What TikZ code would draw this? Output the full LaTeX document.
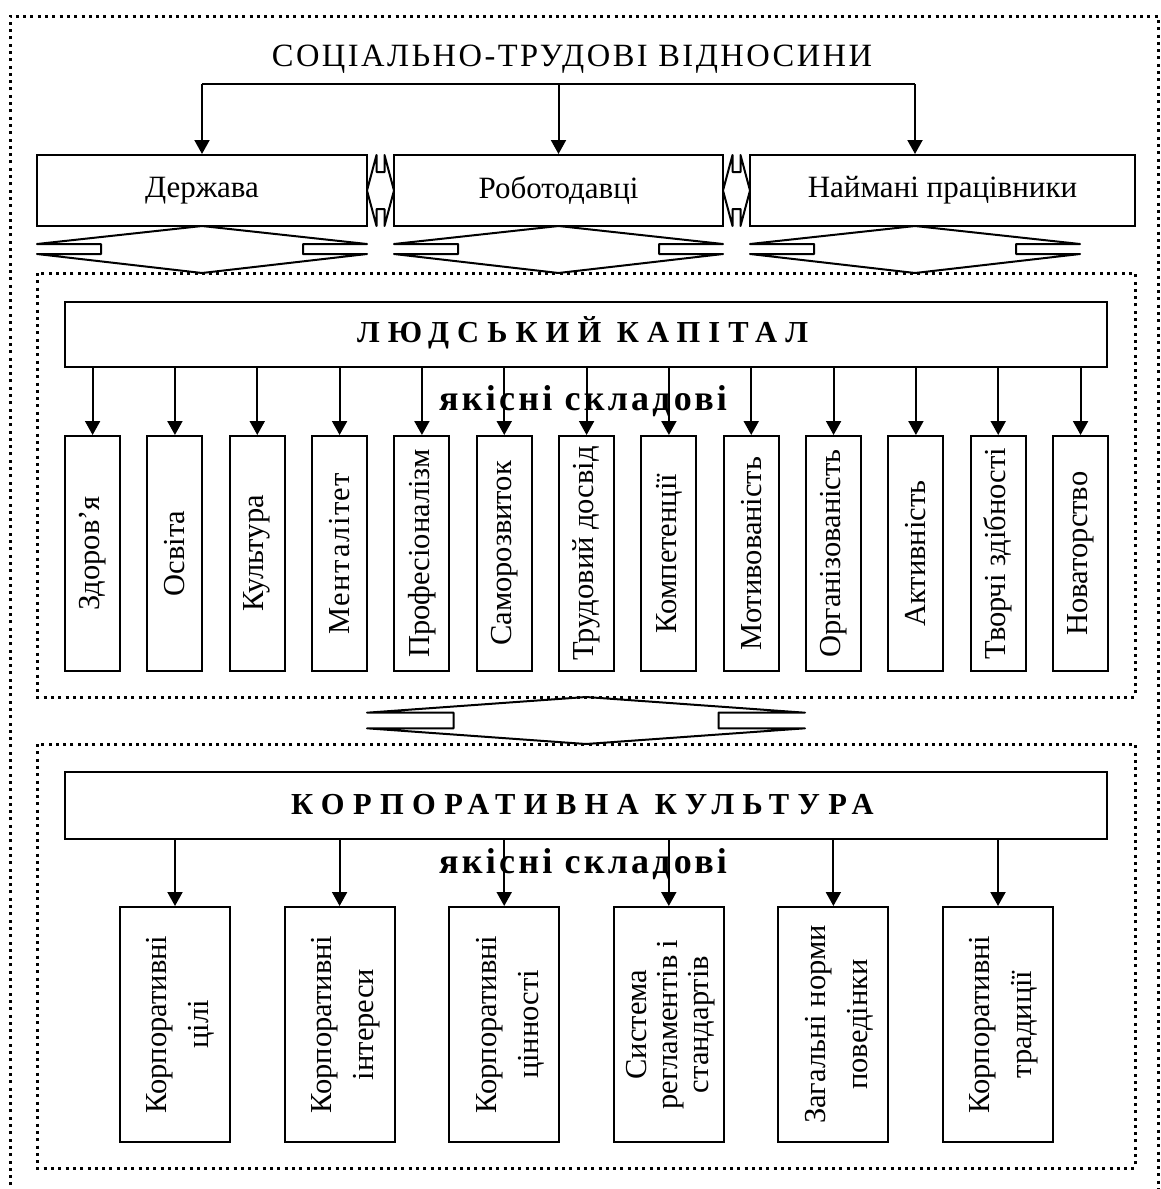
\documentclass[tikz,border=0pt]{standalone}
\usepackage{fontspec}
\setmainfont{Liberation Serif}
\newfontfamily\ttlfont[LetterSpace=7.6]{Liberation Serif}
\newfontfamily\hdrAfont[LetterSpace=26.5]{Liberation Serif}
\newfontfamily\hdrBfont[LetterSpace=27.5]{Liberation Serif}
\newfontfamily\subfont[LetterSpace=9]{Liberation Serif}
\newfontfamily\menfont[LetterSpace=5]{Liberation Serif}
\usetikzlibrary{arrows.meta}
\newcommand{\hda}[7]{%
  \draw[blk] (#1,#4) -- ({(#1+#2)/2},#3) -- (#2,#4) -- ({#2-#7},#4) -- ({#2-#7},#5) -- (#2,#5)
    -- ({(#1+#2)/2},#6) -- (#1,#5) -- ({#1+#7},#5) -- ({#1+#7},#4) -- cycle;}
\newcommand{\vda}[7]{%
  \draw[blk] (#5,#3) -- ({(#1)},{(#3+#4)/2}) -- (#5,#4) -- (#5,{#4-#7}) -- (#6,{#4-#7}) -- (#6,#4)
    -- (#2,{(#3+#4)/2}) -- (#6,#3) -- (#6,{#3+#7}) -- (#5,{#3+#7}) -- cycle;}
\tikzset{
  rbox/.style={draw, line width=2pt, inner sep=0pt},
  hbox/.style={rbox, minimum height=71pt, font=\fontsize{31}{35}\selectfont},
  bigbox/.style={rbox, minimum width=1042pt},
  qbox/.style={rbox, rotate=90, minimum width=235pt, minimum height=55pt, font=\fontsize{30.5}{34}\selectfont},
  cbox/.style={rbox, minimum width=110pt, minimum height=235pt},
  clab/.style={inner sep=0pt, rotate=90, align=center},
  arr/.style={line width=2pt, -{Triangle[length=14pt,width=15pt]}},
  ln/.style={line width=2pt},
  dotframe/.style={line width=3pt, dash pattern=on 3pt off 4.3pt},
  blk/.style={line width=2pt, line join=round},
  hdr/.style={inner sep=0pt, anchor=base west},
  sub/.style={inner sep=0pt, anchor=base west, font=\subfont\bfseries\fontsize{36}{40}\selectfont},
}
\begin{document}
\begin{tikzpicture}[x=1pt,y=-1pt]
\clip (0,0) rectangle (1161,1189);
\fill[white] (0,0) rectangle (1161,1189);
% frames
\draw[dotframe] (10,1200) -- (10,16) -- (1158,16) -- (1158,1200);
\draw[dotframe] (37,273) rectangle (1135,697);
\draw[dotframe] (37,744) rectangle (1135,1168);
% title
\node[inner sep=0pt, anchor=base west, font=\ttlfont\fontsize{32.5}{36}\selectfont] (title) at (271.7,66.7) {СОЦІАЛЬНО-ТРУДОВІ ВІДНОСИНИ};
% top boxes
\node[hbox, minimum width=330pt] (gov) at (202,190.5) {Держава};
\node[hbox, minimum width=329pt] (emp) at (558.5,190.5) {Роботодавці};
\node[hbox, minimum width=385pt] (wrk) at (942.5,190.5) {Наймані працівники};
\coordinate (busL) at (202,84);
\coordinate (busR) at (915,84);
\draw[ln] (busL) -- (busR);
\draw[arr] (busL) -- (gov.north);
\draw[arr] (busL -| emp.north) -- (emp.north);
\draw[arr] (busR) -- (busR |- wrk.north);
% double arrows between top boxes
\vda{367}{394}{155}{226}{376.5}{384.5}{17}
\vda{723}{750}{155}{226}{732.5}{740.5}{17}
% block arrows below top boxes
\hda{37}{367}{226}{244}{254}{273}{64}
\hda{394}{723}{226}{244}{254}{273}{64}
\hda{750}{1080}{226}{244}{254}{273}{64}
% human capital
\node[bigbox, minimum height=65pt] (hc) at (586,334.5) {};
\node[hdr, font=\hdrAfont\bfseries\fontsize{30.5}{34}\selectfont] (hct) at (357,342.7) {ЛЮДСЬКИЙ КАПІТАЛ};
\node[sub] (sub1) at (439,410) {якісні складові};
\foreach \t [count=\i from 0] in {Здоров’я,Освіта,Культура,{\menfont Менталітет},Професіоналізм,Саморозвиток,Трудовий досвід,Компетенції,Мотивованість,Організованість,Активність,Творчі здібності,Новаторство}{
  \node[qbox] (q\i) at ({92.6+82.33*\i},553.5) {\t};
  \draw[arr] (hc.south -| q\i.east) -- (q\i.east);
}
% middle block arrow
\hda{367}{805}{697}{712.7}{728.3}{744}{86.5}
% corporate culture
\node[bigbox, minimum height=67pt] (cc) at (586,805.5) {};
\node[hdr, font=\hdrBfont\bfseries\fontsize{30.5}{34}\selectfont] (cct) at (291,814) {КОРПОРАТИВНА КУЛЬТУРА};
\node[sub] (sub2) at (439,873) {якісні складові};
\foreach \t/\bs/\sh [count=\i from 0] in {{Корпоративні\\цілі}/42/5.7,{Корпоративні\\інтереси}/42/5.7,{Корпоративні\\цінності}/42/5.7,{Система\\регламентів і\\стандартів}/31/2,{Загальні норми\\поведінки}/42/5.7,{Корпоративні\\традиції}/42/5.7}{
  \node[cbox] (c\i) at ({175+164.6*\i},1024.5) {};
  \node[clab, font=\fontsize{30.5}{\bs}\selectfont] (cl\i) at ({175+164.6*\i+\sh},1024.5) {\t};
  \draw[arr] (cc.south -| c\i.north) -- (c\i.north);
}
\end{tikzpicture}
\end{document}
